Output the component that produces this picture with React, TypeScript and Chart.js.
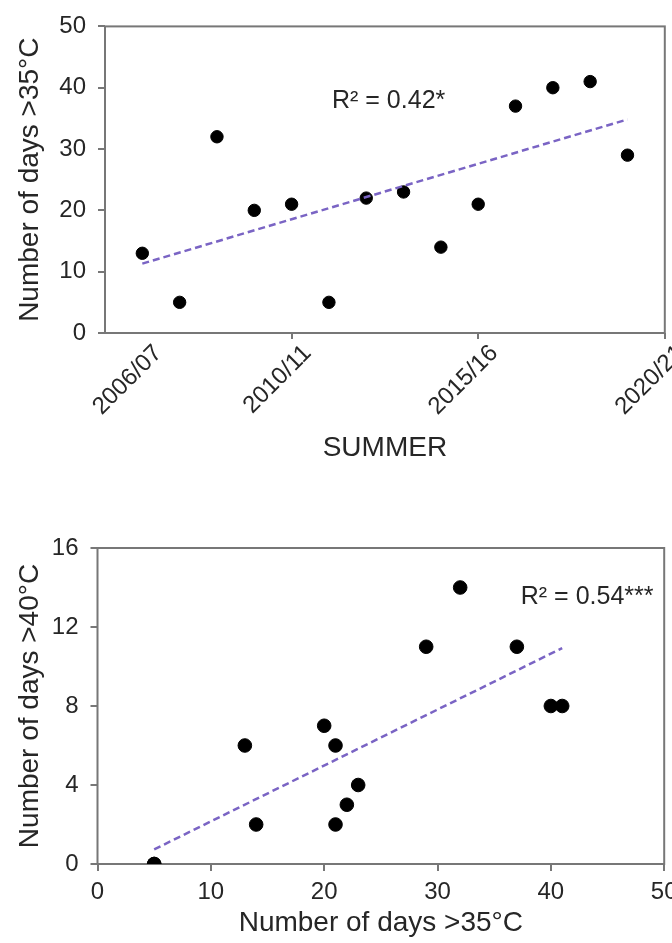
import React, { useEffect, useRef } from 'react';
import { Chart, registerables } from 'chart.js';

Chart.register(...registerables);

// ---------- DATA ----------
const seasons = [
  '2006/07', '2007/08', '2008/09', '2009/10', '2010/11', '2011/12', '2012/13',
  '2013/14', '2014/15', '2015/16', '2016/17', '2017/18', '2018/19', '2019/20',
];
const daysOver35 = [13, 5, 32, 20, 21, 5, 22, 23, 14, 21, 37, 40, 41, 29];
const daysOver40 = [6, 0, 14, 7, 6, 0, 3, 4, 2, 2, 11, 8, 8, 11];

const seasonTickYears = [2006, 2010, 2015, 2020];
const seasonTickLabels = ['2006/07', '2010/11', '2015/16', '2020/21'];

const r2TextTop = 'R\u00B2 = 0.42*';
const r2TextBottom = 'R\u00B2 = 0.54***';

// ---------- HELPERS ----------
const seasonStartYear = (s: string) => parseInt(s.slice(0, 4), 10);

function regressionLine(xs: number[], ys: number[]) {
  const n = xs.length;
  const mx = xs.reduce((a, b) => a + b, 0) / n;
  const my = ys.reduce((a, b) => a + b, 0) / n;
  let sxy = 0;
  let sxx = 0;
  for (let i = 0; i < n; i++) {
    sxy += (xs[i] - mx) * (ys[i] - my);
    sxx += (xs[i] - mx) * (xs[i] - mx);
  }
  const slope = sxy / sxx;
  const intercept = my - slope * mx;
  const x0 = Math.min(...xs);
  const x1 = Math.max(...xs);
  return [
    { x: x0, y: intercept + slope * x0 },
    { x: x1, y: intercept + slope * x1 },
  ];
}

const FONT = "'Liberation Sans', Arial, sans-serif";
const TEXT = '#262626';
const AXIS = '#777777';
const TREND = '#7a64c4';

function framePlugin(id: string, text: string, tx: number, ty: number, size: number) {
  return {
    id,
    beforeDatasetsDraw(chart: any) {
      const { ctx, chartArea } = chart;
      ctx.save();
      ctx.strokeStyle = AXIS;
      ctx.lineWidth = 2;
      ctx.strokeRect(chartArea.left, chartArea.top, chartArea.right - chartArea.left, chartArea.bottom - chartArea.top);
      ctx.restore();
    },
    afterDatasetsDraw(chart: any) {
      const { ctx, scales } = chart;
      const px = scales.x.getPixelForValue(tx);
      const py = scales.y.getPixelForValue(ty);
      ctx.save();
      ctx.fillStyle = TEXT;
      ctx.font = `${size}px ${FONT}`;
      ctx.textAlign = 'center';
      ctx.textBaseline = 'middle';
      ctx.fillText(text, px, py);
      ctx.restore();
    },
  };
}

function TopChart() {
  const ref = useRef<HTMLCanvasElement>(null);
  useEffect(() => {
    const xs = seasons.map(seasonStartYear);
    const pts = xs.map((x, i) => ({ x, y: daysOver35[i] }));
    const chart = new Chart(ref.current!, {
      type: 'scatter',
      data: {
        datasets: [
          {
            type: 'line',
            data: regressionLine(xs, daysOver35),
            borderColor: TREND,
            borderWidth: 2.5,
            borderDash: [7, 4],
            pointRadius: 0,
            fill: false,
          } as any,
          {
            data: pts,
            backgroundColor: '#000',
            borderColor: '#000',
            pointRadius: 6.2,
            pointHoverRadius: 6.2,
          },
        ],
      },
      options: {
        animation: false,
        responsive: false,
        devicePixelRatio: 1,
        layout: { padding: { top: 22, right: 6, left: 0, bottom: 0 } },
        plugins: { legend: { display: false }, tooltip: { enabled: false } },
        scales: {
          x: {
            type: 'linear',
            min: 2005,
            max: 2020,
            afterBuildTicks: (scale: any) => {
              scale.ticks = seasonTickYears.map((v) => ({ value: v }));
            },
            afterFit: (scale: any) => {
              scale.height = 147;
              scale.paddingLeft = 0;
              scale.paddingRight = 0;
            },
            ticks: {
              autoSkip: false,
              minRotation: 45,
              maxRotation: 45,
              padding: 2,
              labelOffset: 16,
              color: TEXT,
              font: { family: FONT, size: 24, lineHeight: 1 },
              callback: (v: any) => seasonTickLabels[seasonTickYears.indexOf(Number(v))] ?? '',
            },
            grid: {
              drawOnChartArea: false,
              drawTicks: true,
              tickLength: 6,
              lineWidth: 2,
              color: (c: any) => (c.tick && c.tick.value === seasonTickYears[0] ? 'rgba(0,0,0,0)' : AXIS),
            },
            border: { display: false },
            title: {
              display: true,
              text: 'SUMMER',
              color: TEXT,
              font: { family: FONT, size: 28 },
              padding: { top: 0, bottom: 15 },
            },
          },
          y: {
            min: 0,
            max: 50,
            afterFit: (scale: any) => {
              scale.width = 105;
            },
            ticks: {
              stepSize: 10,
              padding: 12,
              color: TEXT,
              font: { family: FONT, size: 24 },
            },
            grid: {
              drawOnChartArea: false,
              drawTicks: true,
              tickLength: 7,
              lineWidth: 2,
              color: AXIS,
            },
            border: { display: false },
            title: {
              display: true,
              text: 'Number of days >35\u00B0C',
              color: TEXT,
              font: { family: FONT, size: 28 },
              padding: { top: 13, bottom: 0 },
            },
          },
        },
      },
      plugins: [framePlugin('frameTop', r2TextTop, 2012.6, 37.8, 25)],
    } as any);
    return () => chart.destroy();
  }, []);
  return <canvas ref={ref} width={672} height={480} style={{ position: 'absolute', left: 0, top: 0 }} />;
}

function BottomChart() {
  const ref = useRef<HTMLCanvasElement>(null);
  useEffect(() => {
    const pts = daysOver35.map((x, i) => ({ x, y: daysOver40[i] }));
    const chart = new Chart(ref.current!, {
      type: 'scatter',
      data: {
        datasets: [
          {
            type: 'line',
            data: regressionLine(daysOver35, daysOver40),
            borderColor: TREND,
            borderWidth: 2.5,
            borderDash: [7, 4],
            pointRadius: 0,
            fill: false,
          } as any,
          {
            data: pts,
            backgroundColor: '#000',
            borderColor: '#000',
            pointRadius: 6.8,
            pointHoverRadius: 6.8,
          },
        ],
      },
      options: {
        animation: false,
        responsive: false,
        devicePixelRatio: 1,
        layout: { padding: { top: 48, right: 6, left: 0, bottom: 0 } },
        plugins: { legend: { display: false }, tooltip: { enabled: false } },
        scales: {
          x: {
            type: 'linear',
            min: 0,
            max: 50,
            afterFit: (scale: any) => {
              scale.height = 79;
              scale.paddingLeft = 0;
              scale.paddingRight = 0;
            },
            ticks: {
              stepSize: 10,
              padding: 8,
              maxRotation: 0,
              color: TEXT,
              font: { family: FONT, size: 24, lineHeight: 1.1 },
            },
            grid: {
              drawOnChartArea: false,
              drawTicks: true,
              tickLength: 7,
              lineWidth: 2,
              color: AXIS,
            },
            border: { display: false },
            title: {
              display: true,
              text: 'Number of days >35\u00B0C',
              color: TEXT,
              font: { family: FONT, size: 28 },
              padding: { top: 0, bottom: 3 },
            },
          },
          y: {
            min: 0,
            max: 16,
            afterFit: (scale: any) => {
              scale.width = 97.5;
            },
            ticks: {
              stepSize: 4,
              padding: 12,
              color: TEXT,
              font: { family: FONT, size: 24 },
            },
            grid: {
              drawOnChartArea: false,
              drawTicks: true,
              tickLength: 7,
              lineWidth: 2,
              color: AXIS,
            },
            border: { display: false },
            title: {
              display: true,
              text: 'Number of days >40\u00B0C',
              color: TEXT,
              font: { family: FONT, size: 28 },
              padding: { top: 13, bottom: 0 },
            },
          },
        },
      },
      plugins: [framePlugin('frameBottom', r2TextBottom, 43.2, 13.5, 25)],
    } as any);
    return () => chart.destroy();
  }, []);
  return <canvas ref={ref} width={672} height={443} style={{ position: 'absolute', left: 0, top: 500 }} />;
}

export default function App() {
  return (
    <div style={{ position: 'absolute', left: 0, top: 0, width: 672, height: 943, background: '#fff', overflow: 'hidden' }}>
      <TopChart />
      <BottomChart />
    </div>
  );
}
